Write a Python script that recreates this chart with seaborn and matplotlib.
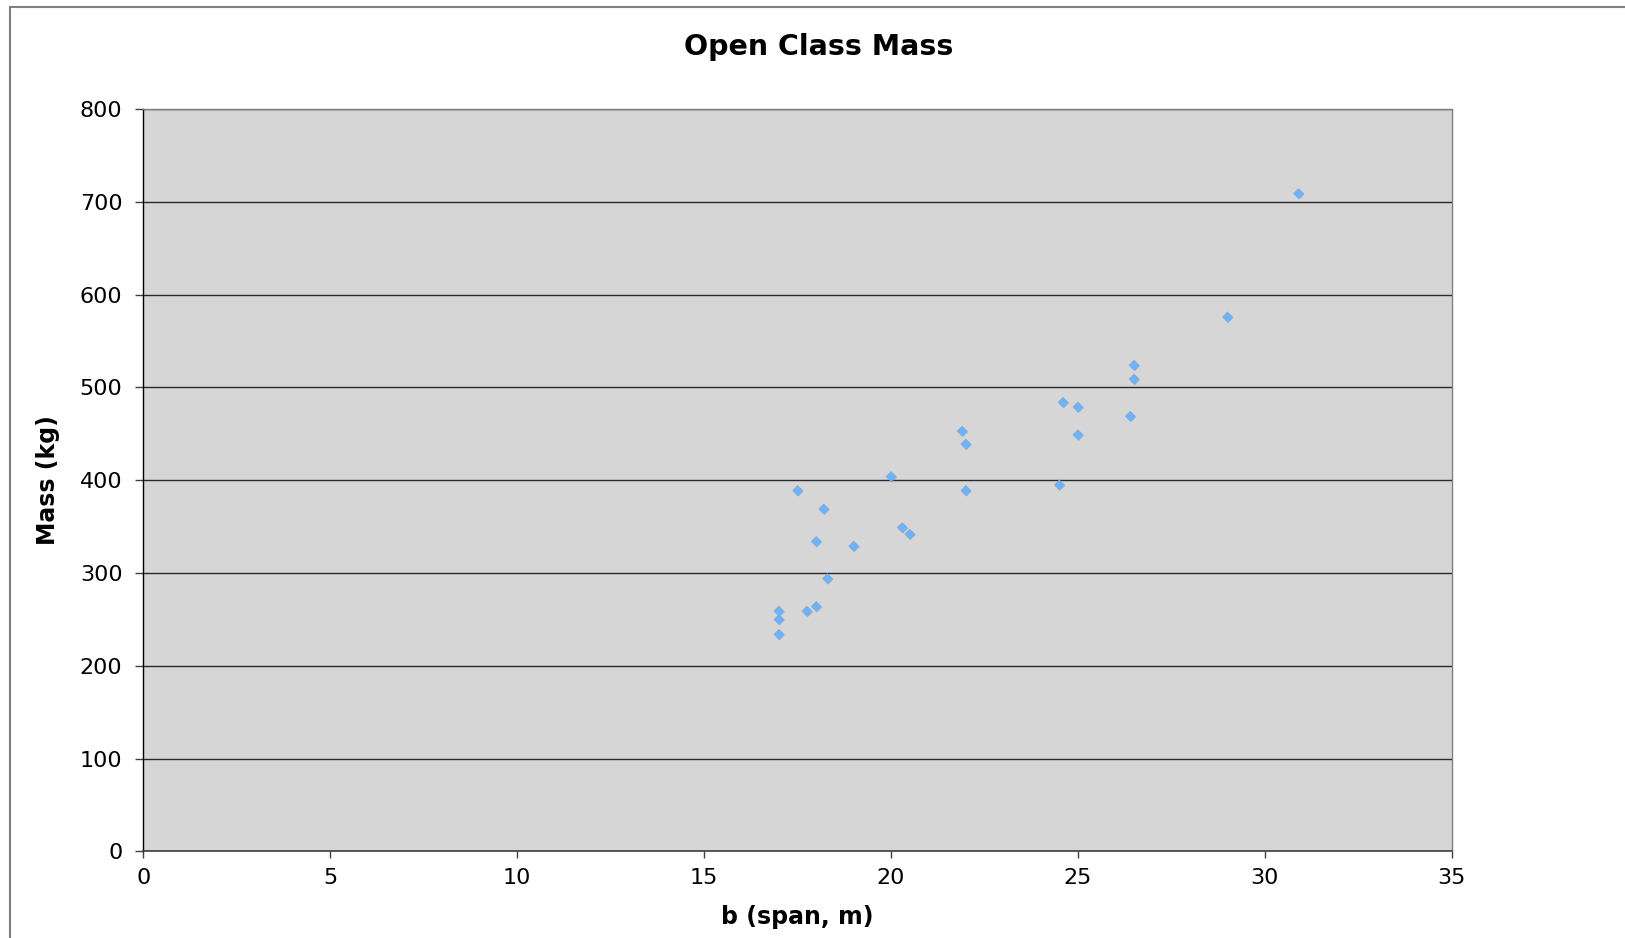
import matplotlib
matplotlib.use("Agg")
import matplotlib.pyplot as plt
import matplotlib.patheffects as pe
from matplotlib.patches import Rectangle
import seaborn as sns
import pandas as pd

span_m = [17.0, 17.0, 17.0, 17.5, 17.75, 18.0, 18.0, 18.2, 18.3, 19.0,
          20.0, 20.3, 20.5, 21.9, 22.0, 22.0, 24.5, 24.6, 25.0, 25.0,
          26.4, 26.5, 26.5, 29.0, 30.9]
mass_kg = [234, 250, 259, 389, 259, 264, 334, 369, 294, 329,
           404, 349, 342, 453, 439, 389, 395, 484, 479, 449,
           469, 509, 524, 576, 709]
x_ticks = [0, 5, 10, 15, 20, 25, 30, 35]
y_ticks = [0, 100, 200, 300, 400, 500, 600, 700, 800]

df = pd.DataFrame({"b (span, m)": span_m, "Mass (kg)": mass_kg})

sns.set_theme(style="white")
plt.rcParams['font.family'] = ['DejaVu Sans']
plt.rcParams['text.color'] = 'black'
plt.rcParams['axes.labelcolor'] = 'black'
plt.rcParams['xtick.color'] = 'black'
plt.rcParams['ytick.color'] = 'black'

fig = plt.figure(figsize=(16.25, 9.38), dpi=100)
ax = fig.add_axes([0.0882, 0.0924, 0.8052, 0.7914])
ax.set_facecolor("#d6d6d6")

sns.scatterplot(data=df, x="b (span, m)", y="Mass (kg)", ax=ax,
                marker="D", s=30, color="#70b2f7", edgecolor="none",
                linewidth=0, zorder=3)
for coll in ax.collections:
    coll.set_path_effects([pe.SimplePatchShadow(offset=(0.5, -0.6), shadow_rgbFace="#909090", alpha=0.6),
                           pe.Normal()])

ax.set_xlim(0, 35)
ax.set_ylim(0, 800)
ax.set_xticks(x_ticks)
ax.set_yticks(y_ticks)
ax.set_xticklabels([str(t) for t in x_ticks])
ax.set_yticklabels([str(t) for t in y_ticks])
ax.yaxis.grid(True, color="#2a2a2a", linewidth=1.0)
ax.xaxis.grid(False)
ax.set_axisbelow(True)

ax.tick_params(axis="y", direction="out", length=6, width=1, color="#404040",
               labelsize=16, pad=9, left=True, labelcolor="black")
ax.tick_params(axis="x", direction="out", length=5, width=1, color="#404040",
               labelsize=16, pad=7, bottom=True, labelcolor="black")

ax.spines["left"].set_color("#000000")
ax.spines["left"].set_linewidth(1.0)
ax.spines["bottom"].set_color("#404040")
ax.spines["bottom"].set_linewidth(1.2)
for side in ["top", "right"]:
    ax.spines[side].set_color("#808080")
    ax.spines[side].set_linewidth(1.0)

ax.set_xlabel("b (span, m)", fontsize=17, fontweight="bold", labelpad=12, color="black")
ax.set_ylabel("Mass (kg)", fontsize=17, fontweight="bold", labelpad=14, color="black")

fig.text(0.504, 0.950, "Open Class Mass", ha="center", va="center",
         fontsize=20.5, fontweight="bold", color="black")

border = Rectangle((10 / 1625, -0.05), 1.1, 1.05 - 7 / 938, transform=fig.transFigure,
                   fill=False, edgecolor="#808080", linewidth=1.5, clip_on=False)
fig.patches.append(border)

fig.savefig("out.png", dpi=100)
